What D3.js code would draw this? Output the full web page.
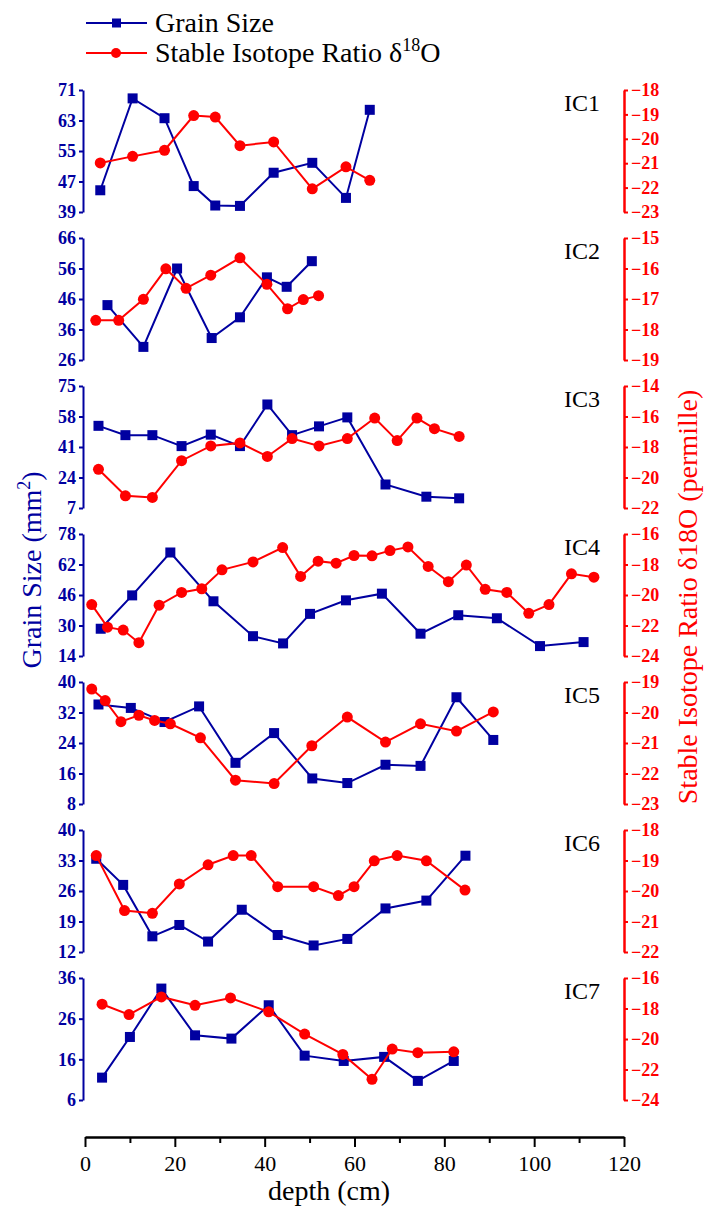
<!DOCTYPE html>
<html><head><meta charset="utf-8">
<script src="https://cdn.jsdelivr.net/npm/d3@7"></script>
<style>body{margin:0;background:#fff}svg{display:block}</style>
</head><body><svg id="c" width="704" height="1207"></svg>
<script>
// ---------- data ----------
const panelNames = ["IC1","IC2","IC3","IC4","IC5","IC6","IC7"];
const grainTicks = [[39,47,55,63,71],[26,36,46,56,66],[7,24,41,58,75],[14,30,46,62,78],[8,16,24,32,40],[12,19,26,33,40],[6,16,26,36]];
const isoTicks = [[-23,-22,-21,-20,-19,-18],[-19,-18,-17,-16,-15],[-22,-20,-18,-16,-14],[-24,-22,-20,-18,-16],[-23,-22,-21,-20,-19],[-22,-21,-20,-19,-18],[-24,-22,-20,-18,-16]];
const depthTicks = [0,20,40,60,80,100,120];
const depthMinorTicks = [10,30,50,70,90,110];

const ic1GrainDepth = [3.4,10.6,17.7,24.2,29,34.5,42,50.6,58.1,63.4];
const ic1Grain = [44.7,68.8,63.6,45.8,40.7,40.6,49.3,51.9,42.7,65.8];
const ic1IsoDepth = [3.4,10.6,17.7,24.2,29,34.5,42,50.6,58.1,63.4];
const ic1Iso = [-20.99,-20.72,-20.47,-19.05,-19.11,-20.28,-20.13,-22.05,-21.15,-21.7];

const ic2GrainDepth = [5.0,13.0,20.5,28.2,34.5,40.5,44.9,50.5];
const ic2Grain = [44.0,30.3,56,33.2,40,53.1,50,58.4];
const ic2IsoDepth = [2.4,7.5,13.0,18.0,22.5,28.0,34.5,40.5,45.1,48.6,52.0];
const ic2Iso = [-17.7,-17.7,-17.01,-16.01,-16.65,-16.22,-15.65,-16.52,-17.32,-17.02,-16.89];

const ic3GrainDepth = [3.0,9.0,15.0,21.5,28.0,34.5,40.6,46.1,52.1,58.4,66.9,76.0,83.3];
const ic3Grain = [52.8,47.6,47.6,41.5,47.9,41.5,64.7,47.6,52.5,57.5,20.1,13.3,12.4];
const ic3IsoDepth = [3.0,9.0,15.0,21.5,28.0,34.5,40.6,46.1,52.1,58.4,64.5,69.5,73.9,77.8,83.3];
const ic3Iso = [-19.46,-21.2,-21.31,-18.9,-17.93,-17.73,-18.62,-17.45,-17.93,-17.45,-16.1,-17.58,-16.1,-16.8,-17.31];

const ic4GrainDepth = [3.5,10.5,19.0,28.6,37.4,44.1,50.1,58.1,66.1,74.7,83.1,91.7,101.3,111.0];
const ic4Grain = [28.3,45.8,68.3,42.7,24.4,20.6,36.1,43.2,46.7,25.7,35.4,33.8,19.2,21.3];
const ic4IsoDepth = [1.5,5.0,8.5,12.0,16.5,21.5,26.0,30.5,37.4,44.0,48.0,51.9,55.9,59.9,63.9,67.9,71.9,76.4,80.9,84.9,89.1,93.9,98.8,103.3,108.3,113.3];
const ic4Iso = [-20.63,-22.11,-22.3,-23.13,-20.67,-19.83,-19.59,-18.35,-17.83,-16.89,-18.78,-17.78,-17.91,-17.41,-17.43,-17.09,-16.85,-18.13,-19.13,-18.04,-19.63,-19.83,-21.2,-20.63,-18.61,-18.83];

const ic5GrainDepth = [3.0,10.2,17.7,25.4,33.5,42.1,50.6,58.4,66.9,74.7,82.7,90.9];
const ic5Grain = [34.1,33.2,29.5,33.6,18.8,26.6,14.7,13.5,18.3,18,36,24.8];
const ic5IsoDepth = [1.5,4.5,8.0,12.0,15.5,19.0,25.7,33.5,42.1,50.5,58.4,66.9,74.7,82.7,90.9];
const ic5Iso = [-19.23,-19.61,-20.3,-20.09,-20.26,-20.37,-20.83,-22.22,-22.33,-21.09,-20.15,-20.97,-20.37,-20.61,-19.98];

const ic6GrainDepth = [2.5,8.5,15.0,21.0,27.4,34.9,42.9,50.9,58.4,66.9,76.0,84.7];
const ic6Grain = [33.4,27.4,15.6,18.2,14.4,21.7,15.9,13.5,15,22,23.8,34.1];
const ic6IsoDepth = [2.5,8.8,15.0,21.0,27.4,33.0,37.0,42.9,50.9,56.4,59.9,64.4,69.5,76.0,84.6];
const ic6Iso = [-18.84,-20.64,-20.73,-19.77,-19.14,-18.84,-18.84,-19.86,-19.86,-20.15,-19.86,-19.01,-18.84,-19.01,-19.97];

const ic7GrainDepth = [3.8,10.0,17.0,24.5,32.6,40.9,48.9,57.6,66.6,74.1,82.1];
const ic7Grain = [11.5,21.5,33.4,21.9,21.1,29.3,16.9,15.6,16.6,10.7,15.6];
const ic7IsoDepth = [3.8,9.8,17.0,24.5,32.4,40.9,48.9,57.4,63.9,68.4,74.1,82.1];
const ic7Iso = [-17.72,-18.4,-17.24,-17.79,-17.31,-18.22,-19.68,-21.01,-22.64,-20.66,-20.9,-20.84];

const grainDepths = [ic1GrainDepth,ic2GrainDepth,ic3GrainDepth,ic4GrainDepth,ic5GrainDepth,ic6GrainDepth,ic7GrainDepth];
const grainValues = [ic1Grain,ic2Grain,ic3Grain,ic4Grain,ic5Grain,ic6Grain,ic7Grain];
const isoDepths = [ic1IsoDepth,ic2IsoDepth,ic3IsoDepth,ic4IsoDepth,ic5IsoDepth,ic6IsoDepth,ic7IsoDepth];
const isoValues = [ic1Iso,ic2Iso,ic3Iso,ic4Iso,ic5Iso,ic6Iso,ic7Iso];

// ---------- layout ----------
const BLUE = "#0000A0", RED = "#FF0000";
const FONT = "'Liberation Serif','Times New Roman',serif";
const svg = d3.select("#c");
const x = d3.scaleLinear().domain([0,120]).range([85,624]);
const leftX = 83, rightX = 624;
const panelTop0 = 90, panelStep = 148, panelH = 122;

panelNames.forEach((name,i)=>{
  const top = panelTop0 + i*panelStep;
  const gt = grainTicks[i], it = isoTicks[i];
  const yL = d3.scaleLinear().domain([gt[0], gt[gt.length-1]]).range([top+panelH, top]);
  const yR = d3.scaleLinear().domain([it[0], it[it.length-1]]).range([top+panelH, top]);

  const gL = svg.append("g").attr("transform",`translate(${leftX},0)`)
    .call(d3.axisLeft(yL).tickValues(gt).tickSize(4).tickSizeOuter(0).tickPadding(3).tickFormat(d3.format("d")));
  gL.attr("font-family",null);
  gL.select(".domain").attr("stroke",BLUE).attr("stroke-width",2);
  gL.selectAll(".tick line").attr("stroke",BLUE).attr("stroke-width",2);
  gL.selectAll(".tick text").attr("fill",BLUE).style("font-family",FONT).style("font-size","18px").style("font-weight","bold");

  const gR = svg.append("g").attr("transform",`translate(${rightX},0)`)
    .call(d3.axisRight(yR).tickValues(it).tickSize(4).tickSizeOuter(0).tickPadding(3).tickFormat(d3.format("d")));
  gR.attr("font-family",null);
  gR.select(".domain").attr("stroke",RED).attr("stroke-width",2.5);
  gR.selectAll(".tick line").attr("stroke",RED).attr("stroke-width",2);
  gR.selectAll(".tick text").attr("fill",RED).style("font-family",FONT).style("font-size","18px").style("font-weight","bold");

  const gd = grainDepths[i].map((d,k)=>({d, v:grainValues[i][k]}));
  const id = isoDepths[i].map((d,k)=>({d, v:isoValues[i][k]}));

  svg.append("path").datum(gd)
    .attr("d", d3.line().x(p=>x(p.d)).y(p=>yL(p.v)))
    .attr("fill","none").attr("stroke",BLUE).attr("stroke-width",2);
  svg.append("g").selectAll("rect").data(gd).join("rect")
    .attr("x",p=>x(p.d)-5).attr("y",p=>yL(p.v)-5).attr("width",10).attr("height",10).attr("fill",BLUE);

  svg.append("path").datum(id)
    .attr("d", d3.line().x(p=>x(p.d)).y(p=>yR(p.v)))
    .attr("fill","none").attr("stroke",RED).attr("stroke-width",2);
  svg.append("g").selectAll("circle").data(id).join("circle")
    .attr("cx",p=>x(p.d)).attr("cy",p=>yR(p.v)).attr("r",5.5).attr("fill",RED);

  svg.append("text").attr("x",600).attr("y",top+21).attr("text-anchor","end")
    .style("font-family",FONT).style("font-size","24px").attr("fill","#000").text(name);
});

// x axis
const xAxisY = 1137;
const gx = svg.append("g").attr("transform",`translate(0,${xAxisY})`)
  .call(d3.axisBottom(x).tickValues(depthTicks).tickSize(10).tickSizeOuter(0).tickPadding(8).tickFormat(d3.format("d")));
gx.attr("font-family",null);
gx.select(".domain").attr("stroke","#000").attr("stroke-width",2.5);
gx.selectAll(".tick line").attr("stroke","#000").attr("stroke-width",2);
gx.selectAll(".tick text").attr("fill","#000").style("font-family",FONT).style("font-size","22px");
const gxm = svg.append("g").attr("transform",`translate(0,${xAxisY})`)
  .call(d3.axisBottom(x).tickValues(depthMinorTicks).tickSize(6).tickFormat(""));
gxm.select(".domain").remove();
gxm.selectAll(".tick line").attr("stroke","#000").attr("stroke-width",2);

svg.append("text").attr("x",329).attr("y",1200).attr("text-anchor","middle")
  .style("font-family",FONT).style("font-size","28px").attr("fill","#000").text("depth (cm)");

// axis titles
const lt = svg.append("text").attr("transform","translate(41,570) rotate(-90)").attr("text-anchor","middle")
  .style("font-family",FONT).style("font-size","28px").attr("fill",BLUE);
lt.append("tspan").text("Grain Size (mm");
lt.append("tspan").attr("dy",-11).style("font-size","18px").text("2");
lt.append("tspan").attr("dy",11).text(")");

svg.append("text").attr("transform","translate(697,597) rotate(-90)").attr("text-anchor","middle")
  .style("font-family",FONT).style("font-size","28px").attr("fill",RED)
  .text("Stable Isotope Ratio δ18O (permille)");

// legend
const legend = svg.append("g");
const legendItems = [{label:"Grain Size", color:BLUE, shape:"square", y:23},{label:"Stable Isotope Ratio δ", color:RED, shape:"circle", y:53}];
legendItems.forEach(it=>{
  legend.append("line").attr("x1",86).attr("x2",147).attr("y1",it.y).attr("y2",it.y).attr("stroke",it.color).attr("stroke-width",2);
  if(it.shape==="square") legend.append("rect").attr("x",112).attr("y",it.y-4.5).attr("width",9).attr("height",9).attr("fill",it.color);
  else legend.append("circle").attr("cx",116).attr("cy",it.y).attr("r",5).attr("fill",it.color);
  const t = legend.append("text").attr("x",155).attr("y",it.y+9).style("font-family",FONT).style("font-size","28px").attr("fill","#000");
  t.append("tspan").text(it.label);
  if(it.shape==="circle"){
    t.append("tspan").attr("dy",-11).style("font-size","18px").text("18");
    t.append("tspan").attr("dy",11).text("O");
  }
});
</script></body></html>
